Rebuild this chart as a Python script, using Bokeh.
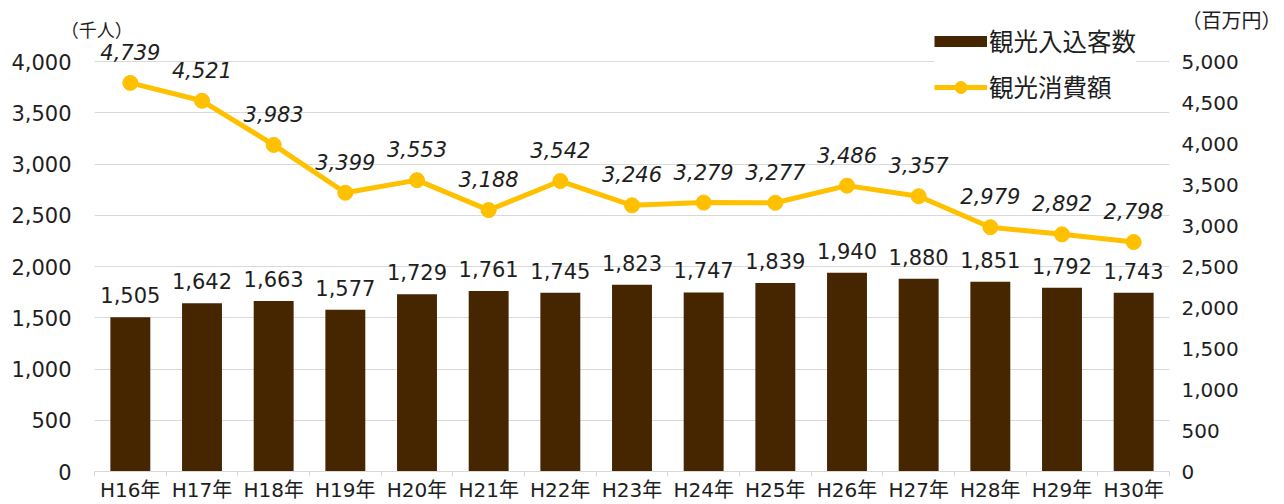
from bokeh.plotting import figure
from bokeh.models import (Range1d, LinearAxis, FixedTicker, NumeralTickFormatter,
                          Legend, LegendItem)
from bokeh.core.properties import value
from bokeh.embed import file_html
from bokeh.resources import INLINE

# ---- data ----
categories = ["H16年", "H17年", "H18年", "H19年", "H20年", "H21年", "H22年", "H23年",
              "H24年", "H25年", "H26年", "H27年", "H28年", "H29年", "H30年"]
visitors = [1505, 1642, 1663, 1577, 1729, 1761, 1745, 1823, 1747, 1839, 1940, 1880, 1851, 1792, 1743]
spending = [4739, 4521, 3983, 3399, 3553, 3188, 3542, 3246, 3279, 3277, 3486, 3357, 2979, 2892, 2798]
left_ticks = [0, 500, 1000, 1500, 2000, 2500, 3000, 3500, 4000]
right_ticks = [0, 500, 1000, 1500, 2000, 2500, 3000, 3500, 4000, 4500, 5000]
series_names = ["観光入込客数", "観光消費額"]
unit_left = "（千人）"
unit_right = "（百万円）"

# ---- style ----
BROWN = "#452600"
GOLD = "#FFC000"
GRID = "#D9D9D9"
TXT = "#1E1E1E"
NUMFONT = "'DejaVu Sans', 'Noto Sans CJK JP'"
CJKFONT = "'Noto Sans CJK JP'"

W, H = 1284, 504
B_LEFT, B_RIGHT, B_TOP, B_BOTTOM = 94, 112, 15, 33
frame_h = H - B_TOP - B_BOTTOM
# 4000 (left) / 5000 (right) sit 410 px above the baseline
y_top_left = 4000 * frame_h / 410
y_top_right = 5000 * frame_h / 410
right_unit_pos = 5500      # vertical position of the right unit caption (right-axis units)
left_unit_pos = -0.47      # horizontal position of the left unit caption (x units)

n = len(categories)
idx = list(range(n))

p = figure(width=W, height=H, output_backend="svg", toolbar_location=None,
           x_range=Range1d(-0.5, n - 0.5), y_range=Range1d(0, y_top_left),
           min_border_left=B_LEFT, min_border_right=B_RIGHT,
           min_border_top=B_TOP, min_border_bottom=B_BOTTOM)
p.extra_y_ranges = {"right": Range1d(0, y_top_right)}
p.outline_line_color = None
p.background_fill_color = "white"
p.border_fill_color = "white"

# x axis
xa = p.xaxis[0]
xa.ticker = FixedTicker(ticks=idx, minor_ticks=[i - 0.5 for i in range(n + 1)])
xa.major_label_overrides = {i: c for i, c in enumerate(categories)}
xa.axis_line_color = GRID
xa.axis_line_width = 1
xa.major_tick_line_color = None
xa.major_tick_in = 0
xa.major_tick_out = 0
xa.minor_tick_line_color = GRID
xa.minor_tick_in = 0
xa.minor_tick_out = 5
xa.major_label_text_font = NUMFONT
xa.major_label_text_font_size = "20px"
xa.major_label_text_color = TXT
xa.major_label_standoff = 1

# left axis
ya = p.yaxis[0]
ya.ticker = FixedTicker(ticks=left_ticks)
ya.formatter = NumeralTickFormatter(format="0,0")
ya.axis_line_color = None
ya.major_tick_line_color = None
ya.minor_tick_line_color = None
ya.major_tick_out = 0
ya.major_tick_in = 0
ya.major_label_standoff = 23
ya.major_label_text_font = NUMFONT
ya.major_label_text_font_size = "21px"
ya.major_label_text_color = TXT

# right axis (also carries the unit caption at its top)
ra = LinearAxis(y_range_name="right", ticker=FixedTicker(ticks=right_ticks + [right_unit_pos]),
                formatter=NumeralTickFormatter(format="0,0"))
ra.major_label_overrides = {right_unit_pos: unit_right}
ra.axis_line_color = None
ra.major_tick_line_color = None
ra.minor_tick_line_color = None
ra.major_tick_out = 0
ra.major_tick_in = 0
ra.major_label_standoff = 12
ra.major_label_text_font = NUMFONT
ra.major_label_text_font_size = "20px"
ra.major_label_text_color = TXT
p.add_layout(ra, "right")

# top axis carrying the left unit caption
ta = LinearAxis(ticker=FixedTicker(ticks=[left_unit_pos]))
ta.major_label_overrides = {left_unit_pos: unit_left}
ta.axis_line_color = None
ta.major_tick_line_color = None
ta.minor_tick_line_color = None
ta.major_tick_out = 0
ta.major_tick_in = 0
ta.major_label_standoff = -26
ta.major_label_text_font = CJKFONT
ta.major_label_text_font_size = "18px"
ta.major_label_text_color = TXT
p.add_layout(ta, "above")

p.xgrid.grid_line_color = None
p.ygrid[0].ticker = FixedTicker(ticks=left_ticks)
p.ygrid.grid_line_color = GRID
p.ygrid.grid_line_width = 1

# bars
p.vbar(x=idx, top=visitors, width=0.557, fill_color=BROWN, line_color=None)

# line + markers
line_r = p.line(x=idx, y=spending, y_range_name="right", line_color=GOLD, line_width=5)
sc_r = p.scatter(x=idx, y=spending, y_range_name="right", size=15,
                 fill_color=GOLD, line_color=GOLD)

# data labels
p.text(x=idx, y=visitors, text=[f"{v:,}" for v in visitors], text_align="center",
       text_baseline="alphabetic", y_offset=-22, text_font=value(NUMFONT),
       text_font_size="21px", text_color=TXT)
p.text(x=idx, y=spending, text=[f"{v:,}" for v in spending], y_range_name="right",
       text_align="center", text_baseline="alphabetic", y_offset=-31,
       text_font=value(NUMFONT), text_font_style="italic",
       text_font_size="21px", text_color=TXT)

# legend (placeholder renderer for the bar swatch)
nan = float("nan")
bar_swatch = p.line(x=[nan], y=[nan], line_color=BROWN, line_width=11, line_cap="butt")
legend = Legend(items=[LegendItem(label=series_names[0], renderers=[bar_swatch]),
                       LegendItem(label=series_names[1], renderers=[line_r, sc_r])],
                location=(840, 367), orientation="vertical",
                glyph_width=53, glyph_height=30, label_height=30,
                label_standoff=2, spacing=11, padding=6, margin=0,
                label_text_font=CJKFONT, label_text_font_size="24.5px",
                label_text_color=TXT, border_line_color=None,
                background_fill_color="white", background_fill_alpha=1.0)
p.add_layout(legend)

open("out.html", "w").write(file_html(p, INLINE))
